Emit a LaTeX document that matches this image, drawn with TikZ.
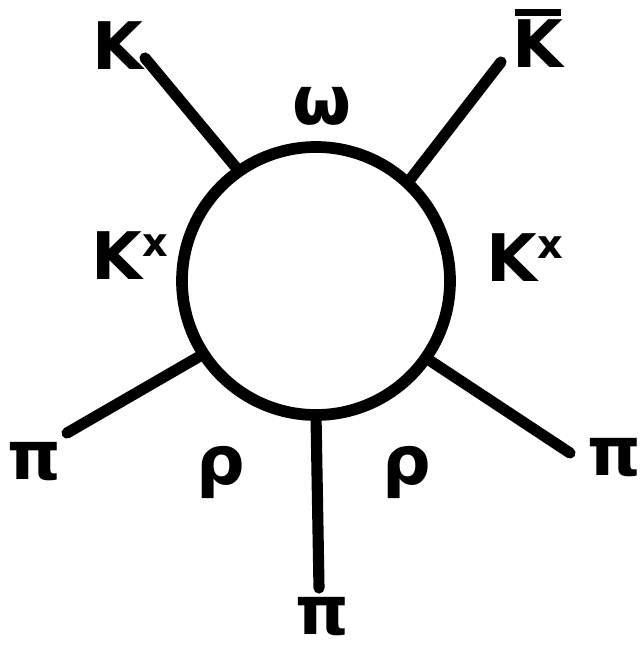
\documentclass[tikz,border=0pt]{standalone}
\usepackage{fontspec}
\usepackage{tikz}
\usetikzlibrary{positioning}
\setmainfont{DejaVu Sans}
\definecolor{inkblack}{HTML}{000000}
\newcommand{\starx}{\raisebox{20pt}{\fontsize{34}{34}\selectfont x}}
\tikzset{
  loopline/.style={circle, draw=inkblack, line width=10pt, inner sep=0pt, outer sep=0pt, minimum size=80.4mm},
  leg/.style={line width=9.5pt, draw=inkblack, line cap=round},
  lbl/.style={font=\bfseries\fontsize{56}{56}\selectfont, text=inkblack, inner sep=0pt},
  greek/.style={font=\bfseries\fontsize{58}{58}\selectfont, text=inkblack, inner sep=0pt},
}

\begin{document}
\begin{tikzpicture}[x=0.3mm, y=-0.3mm]
    \useasboundingbox (0,0) rectangle (643,656);
    % the loop
    \node[loopline] (loop) at (316,281) {};
    % free ends of the external lines
    \coordinate (endK) at (145,58);
    \coordinate (endKbar) at (501,62);
    \coordinate (endPiL) at (67,433);
    \coordinate (endPiB) at (319,588);
    \coordinate (endPiR) at (570,453);
    \draw[leg] (loop.125) -- (endK);
    \draw[leg] (loop.47) -- (endKbar);
    \draw[leg] (loop.213) -- (endPiL);
    \draw[leg] (loop.270) -- (endPiB);
    \draw[leg] (loop.-35) -- (endPiR);
    % external particles
    \node[lbl] (kaon) at (118,46) {K};
    \node[lbl, align=center] (kbar) at (538,38) {\rule{40pt}{6pt}\\[-12pt]K};
    \node[greek] (pionL) at (34,462) {π};
    \node[greek] (pionB) at (322,617) {π};
    \node[greek] (pionR) at (614,458) {π};
    % internal lines
    \node[greek] (omega) at (322,106) {ω};
    \node[lbl] (kstarL) at (130,256) {K\starx};
    \node[lbl] (kstarR) at (525,258) {K\starx};
    \node[greek] (rhoL) at (221,472) {ρ};
    \node[greek] (rhoR) at (407,472) {ρ};
\end{tikzpicture}
\end{document}
